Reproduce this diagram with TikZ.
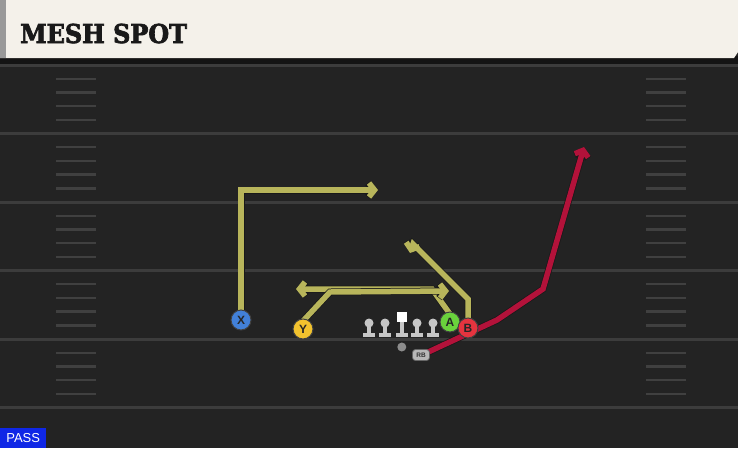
\documentclass[tikz,border=0pt]{standalone}
\usepackage{fontspec}
\setmainfont{DejaVu Serif}
\setsansfont{Liberation Sans}
\newfontfamily\titlefont{DejaVu Serif}[FakeBold=2.5,FakeStretch=0.92]
\usetikzlibrary{arrows.meta}

\definecolor{fieldbg}{HTML}{232323}
\definecolor{yardline}{HTML}{3C3C3C}
\definecolor{hashline}{HTML}{404040}
\definecolor{header}{HTML}{F4F1EA}
\definecolor{routeyel}{HTML}{B8B55B}
\definecolor{routered}{HTML}{B3123A}
\definecolor{xblue}{HTML}{4280D8}
\definecolor{yyellow}{HTML}{F2C22E}
\definecolor{agreen}{HTML}{6AD23C}
\definecolor{bred}{HTML}{E5343F}
\definecolor{linegray}{HTML}{C6C6C6}
\definecolor{passblue}{HTML}{0F27E6}

\tikzset{
        route/.style={line width=5.5pt, line join=miter,
            -{Straight Barb[length=5.5pt,width=14pt]},
            preaction={draw=black!90, line width=7pt}},
        yroute/.style={route, draw=routeyel},
        rroute/.style={route, draw=routered},
        player/.style={circle, draw=black!75, line width=1pt,
            minimum size=20pt, inner sep=0pt, text=black!85,
            font=\sffamily\bfseries\fontsize{12}{12}\selectfont},
        lineman/.pic={
            \fill[linegray] (-6,11) rectangle (6,15);
            \fill[linegray] (-2.2,1) rectangle (2.2,12);
            \fill[linegray] (0,1) circle (4.5pt);
        },
}

\begin{document}
\begin{tikzpicture}[x=1pt,y=-1pt]
        \useasboundingbox (0,0) rectangle (738,448);
        % field and header
        \fill[fieldbg] (0,0) rectangle (738,448);
        \fill[black!92] (0,56) rectangle (738,64);
        \fill[header] (0,0) -- (738,0) -- (738,52) -- (734,58) -- (0,58) -- cycle;
        \fill[black!40] (0,0) rectangle (6,58);
        \node[anchor=base west, text=black!90, inner sep=0pt,
            font=\titlefont\bfseries\fontsize{26}{26}\selectfont] (title) at (20,43) {MESH SPOT};

        \foreach \y in {65,133.5,202,270.5,339,407.5}
        \draw[yardline, line width=3pt] (0,\y) -- (738,\y);
        \foreach \y in {65,133.5,202,270.5,339}
            \foreach \i in {1,2,3,4} {
                \draw[hashline, line width=2.4pt] (56,\y+13.7*\i) -- (96,\y+13.7*\i);
                \draw[hashline, line width=2.4pt] (646,\y+13.7*\i) -- (686,\y+13.7*\i);
            }

        % offense
        \coordinate (Xs) at (241,311);
        \coordinate (Ys) at (303,321);
        \coordinate (As) at (450,314);
        \coordinate (Bs) at (468,320);
        \draw[yroute] (Xs) -- (241,190) -- (378,190);
        \draw[yroute] (As) -- (432,289) -- (296,289);
        \draw[yroute] (Ys) -- (330,292) -- (449,291);
        \draw[yroute] (Bs) -- (468,299) -- (413,244) -- (410,253);
        \coordinate (RBs) at (424,354);
        \draw[rroute] (RBs) -- (497,320) -- (543,289) -- (584,147);

        \foreach \x in {369,385,417,433}
        \pic at (\x,322) {lineman};
        \fill[white] (396.5,312) rectangle (407,322);
        \fill[linegray] (399.6,322) rectangle (404,334);
        \fill[linegray] (395.8,333) rectangle (407.8,337);
        \fill[black!45] (401.8,347) circle (4.5pt);

        \node[player, fill=xblue] (X) at (241,320) {X};
        \node[player, fill=yyellow] (Y) at (303,329) {Y};
        \node[player, fill=agreen] (A) at (450,322) {A};
        \node[player, fill=bred] (B) at (468,328) {B};
        \node[rounded corners=3pt, fill=black!28, draw=black!60, line width=0.8pt,
            minimum width=17pt, minimum height=11pt, inner sep=0pt,
            font=\sffamily\bfseries\fontsize{6.5}{6.5}\selectfont, text=black!80] (RB) at (421,355) {RB};

        \node[fill=passblue, text=white, anchor=south west, inner sep=0pt,
            minimum width=46pt, minimum height=20pt,
            font=\sffamily\fontsize{13}{13}\selectfont] (pass) at (0,448) {PASS};
\end{tikzpicture}
\end{document}
